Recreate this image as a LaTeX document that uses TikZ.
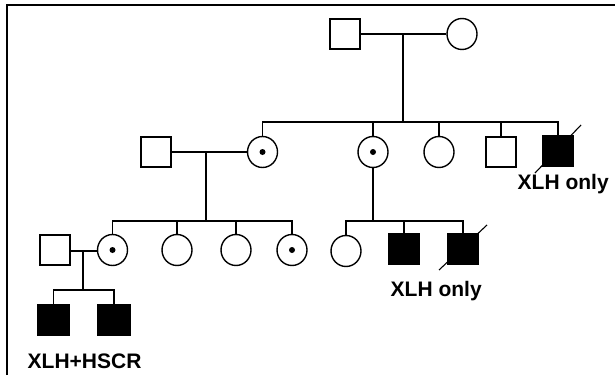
\documentclass[tikz,border=0pt]{standalone}
\usepackage{fontspec}
\setmainfont{Liberation Sans}
\usetikzlibrary{shapes.geometric,calc}
\begin{document}
\begin{tikzpicture}[x=1pt,y=-1pt,line width=1.4pt,
  male/.style={draw,rectangle,minimum width=30pt,minimum height=30pt,inner sep=0pt,line width=1.4pt},
  affm/.style={male,fill=black},
  fem/.style={draw,ellipse,minimum width=30pt,minimum height=31pt,inner sep=0pt,line width=1.4pt},
  carrier/.style={fem,path picture={\fill (path picture bounding box.center) circle (3pt);}},
  lbl/.style={font=\fontsize{21}{24}\selectfont\bfseries,inner sep=0pt,anchor=base west},
  rel/.style={line width=1.4pt},
  slash/.style={line width=1.1pt}]
\useasboundingbox (0,0) rectangle (615,380);
% frame
\draw[line width=1.3pt] (7,375) -- (7,5) -- (615,5);
% generation 1
\node[male] (g1m) at (345,34) {};
\node[fem] (g1f) at (462,34) {};
\coordinate (g1mid) at (403,34);
\coordinate (g2bar) at (403,122);
% generation 2
\node[male] (g2sp) at (156,152) {};
\node[carrier] (g2a) at (262.5,152) {};
\node[carrier] (g2b) at (373,152) {};
\node[fem] (g2c) at (439,152) {};
\node[male] (g2d) at (501,152) {};
\node[affm] (g2e) at (558,151) {};
% generation 3
\node[male] (g3sp) at (55,250) {};
\node[carrier] (g3a) at (112.5,250) {};
\node[fem] (g3b) at (177,250) {};
\node[fem] (g3c) at (236,250) {};
\node[carrier] (g3d) at (292,250) {};
\node[fem] (g3e) at (346,251) {};
\node[affm] (g3f) at (404,249) {};
\node[affm] (g3g) at (463,249) {};
% generation 4
\node[affm,minimum width=32pt] (g4a) at (53.5,320) {};
\node[affm,minimum width=32pt] (g4b) at (114,320) {};
% connectors gen1
\draw[rel] (g1m.east) -- (g1f.west);
\draw[rel] (g1mid) -- (g2bar);
\draw[rel] (g2a.north) -- (g2a.north |- g2bar) -- (g2e.north |- g2bar) -- (g2e.north);
\draw[rel] (g2b.north) -- (g2b.north |- g2bar);
\draw[rel] (g2c.north) -- (g2c.north |- g2bar);
\draw[rel] (g2d.north) -- (g2d.north |- g2bar);
% connectors gen2
\coordinate (g2mid) at (206,152);
\coordinate (g3barL) at (206,221);
\draw[rel] (g2sp.east) -- (g2a.west);
\draw[rel] (g2mid) -- (g3barL);
\draw[rel] (g3a.north) -- (g3a.north |- g3barL) -- (g3d.north |- g3barL) -- (g3d.north);
\draw[rel] (g3b.north) -- (g3b.north |- g3barL);
\draw[rel] (g3c.north) -- (g3c.north |- g3barL);
\coordinate (g3barR) at (373,221);
\draw[rel] (g2b.south) -- (g3barR);
\draw[rel] (g3e.north) -- (g3e.north |- g3barR) -- (g3g.north |- g3barR) -- (g3g.north);
\draw[rel] (g3f.north) -- (g3f.north |- g3barR);
% connectors gen3
\coordinate (g3mid) at (83,251);
\coordinate (g4bar) at (83,290);
\draw[rel] (g3sp.east |- g3mid) -- (g3a.west |- g3mid);
\draw[rel] (g3mid) -- (g4bar);
\draw[rel] (g4a.north) -- (g4a.north |- g4bar) -- (g4b.north |- g4bar) -- (g4b.north);
% deceased slashes
\draw[slash] ($(g2e.center)+(-23,22)$) -- ($(g2e.center)+(23,-26)$);
\draw[slash] ($(g3g.center)+(-24,21)$) -- ($(g3g.center)+(24,-24)$);
% labels
\node[lbl] (t1) at (517,189) {XLH only};
\node[lbl] (t2) at (390,296) {XLH only};
\node[lbl] (t3) at (27,368) {XLH+HSCR};
\end{tikzpicture}
\end{document}
